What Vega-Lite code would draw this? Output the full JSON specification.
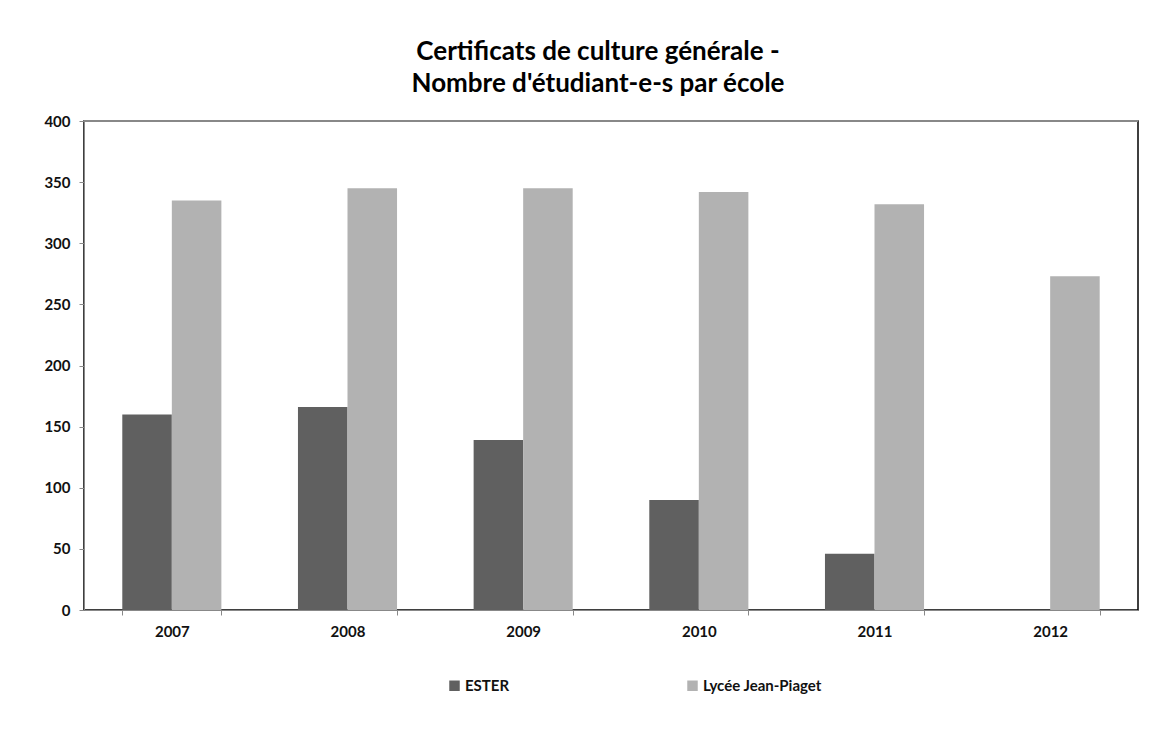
{
  "$schema": "https://vega.github.io/schema/vega-lite/v6.json",
  "autosize": "none",
  "width": 1054,
  "height": 489,
  "padding": {"left": 84, "top": 121, "right": 36, "bottom": 126},
  "background": "white",
  "title": {
    "text": ["Certificats de culture générale -", "Nombre d'étudiant-e-s par école"],
    "anchor": "middle",
    "font": "Lato",
    "fontSize": 26,
    "fontWeight": "bold",
    "color": "#000000",
    "lineHeight": 32,
    "offset": 17,
    "dx": -13
  },
  "data": {
    "values": [
      {"annee": "2007", "ecole": "ESTER", "n": 160},
      {"annee": "2007", "ecole": "Lycée Jean-Piaget", "n": 335},
      {"annee": "2008", "ecole": "ESTER", "n": 166},
      {"annee": "2008", "ecole": "Lycée Jean-Piaget", "n": 345},
      {"annee": "2009", "ecole": "ESTER", "n": 139},
      {"annee": "2009", "ecole": "Lycée Jean-Piaget", "n": 345},
      {"annee": "2010", "ecole": "ESTER", "n": 90},
      {"annee": "2010", "ecole": "Lycée Jean-Piaget", "n": 342},
      {"annee": "2011", "ecole": "ESTER", "n": 46},
      {"annee": "2011", "ecole": "Lycée Jean-Piaget", "n": 332},
      {"annee": "2012", "ecole": "Lycée Jean-Piaget", "n": 273}
    ]
  },
  "layer": [
    {
      "mark": {"type": "bar"},
      "encoding": {
        "x": {
          "field": "annee",
          "type": "nominal",
          "scale": {"paddingInner": 0.436, "paddingOuter": 0.218},
          "axis": {
            "title": null,
            "labelAngle": 0,
            "labelFont": "Lato",
            "labelFontSize": 15,
            "labelFontWeight": "bold",
            "labelColor": "#111111",
            "labelPadding": 9,
            "tickBand": "extent",
            "tickSize": 5,
            "tickColor": "#888888",
            "domainColor": "#888888",
            "grid": false
          }
        },
        "xOffset": {"field": "ecole", "type": "nominal", "scale": {"paddingInner": 0, "paddingOuter": 0}},
        "y": {
          "field": "n",
          "type": "quantitative",
          "scale": {"domain": [0, 400], "nice": false},
          "axis": {
            "title": null,
            "values": [0, 50, 100, 150, 200, 250, 300, 350, 400],
            "labelFont": "Lato",
            "labelFontSize": 15,
            "labelFontWeight": "bold",
            "labelColor": "#111111",
            "labelPadding": 9,
            "tickSize": 5,
            "tickColor": "#888888",
            "domainColor": "#888888",
            "grid": false
          }
        },
        "color": {
          "field": "ecole",
          "type": "nominal",
          "scale": {"domain": ["ESTER", "Lycée Jean-Piaget"], "range": ["#606060", "#b2b2b2"]},
          "legend": {
            "title": null,
            "orient": "none",
            "legendX": 363,
            "legendY": 557,
            "direction": "horizontal",
            "symbolType": "square",
            "symbolSize": 110,
            "symbolStrokeWidth": 0,
            "symbolOpacity": 1,
            "labelFont": "Lato",
            "labelFontSize": 15,
            "labelFontWeight": "bold",
            "labelColor": "#111111",
            "labelOffset": 3,
            "columnPadding": 175
          }
        }
      }
    },
    {
      "mark": {"type": "rule", "color": "#888888", "strokeWidth": 1.5},
      "encoding": {"y": {"datum": 400}}
    }
  ],
  "config": {
    "view": {"stroke": "#000000", "strokeWidth": 1.5}
  }
}
